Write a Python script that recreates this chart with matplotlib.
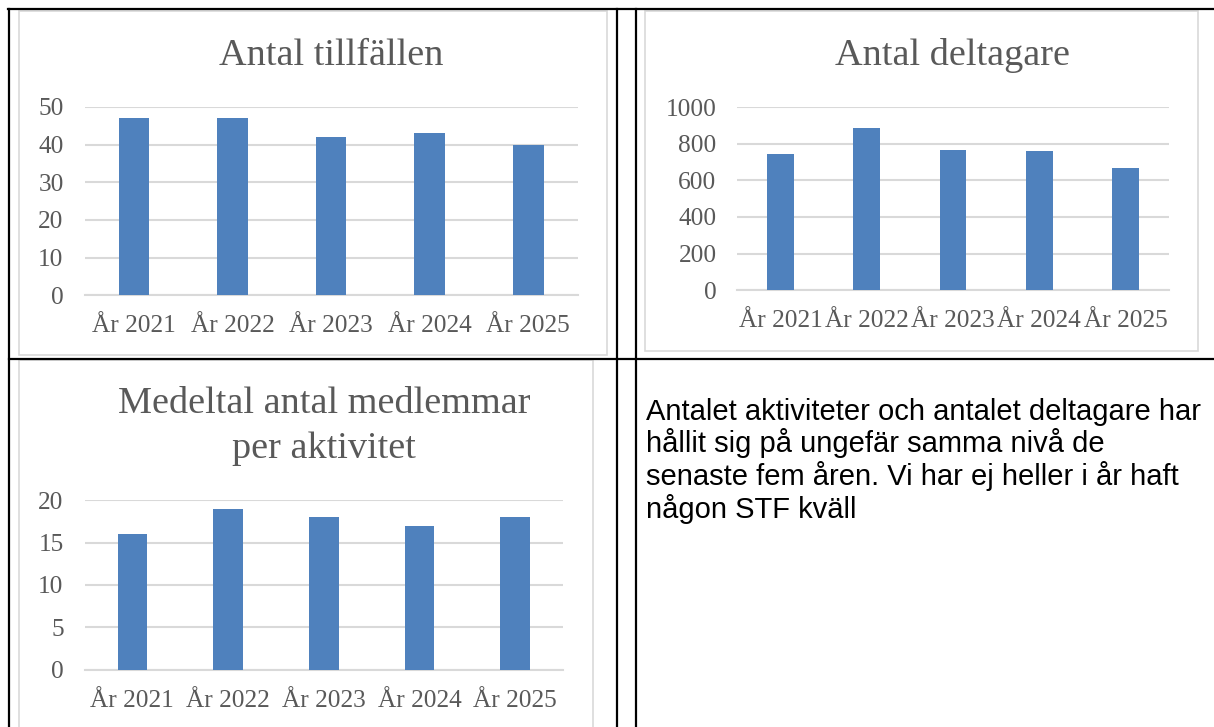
import matplotlib
matplotlib.use('Agg')
import matplotlib.pyplot as plt
from matplotlib.patches import Rectangle
from matplotlib.lines import Line2D
import numpy as np

W, H = 1214, 727

years = ['År 2021', 'År 2022', 'År 2023', 'År 2024', 'År 2025']
tillfallen = [47, 47, 42, 43, 40]
deltagare = [742, 885, 764, 760, 667]
medeltal = [16, 19, 18, 17, 18]

note_lines = [
    'Antalet aktiviteter och antalet deltagare har',
    'hållit sig på ungefär samma nivå de',
    'senaste fem åren. Vi har ej heller i år haft',
    'någon STF kväll',
]

BAR = '#4f81bd'
GRID = '#d9d9d9'
TXT = '#595959'
SERIF = ['Liberation Serif', 'DejaVu Serif']
SANS = ['Liberation Sans', 'DejaVu Sans']


def fx(px):
    return px / W


def fy(py):
    return 1 - py / H


def add_chart(fig, left, right, top, bottom, values, ymax, step, title, title_y):
    ax = fig.add_axes([fx(left), fy(bottom), fx(right - left), (bottom - top) / H])
    x = np.arange(len(values))
    ax.bar(x, values, width=0.31, color=BAR, zorder=3)
    ax.set_xlim(-0.5, len(values) - 0.5)
    ax.set_ylim(0, ymax)
    ax.set_yticks(np.arange(0, ymax + 1, step))
    ax.set_xticks(x)
    ax.set_xticklabels(years, family=SERIF, fontsize=18.3, color=TXT)
    for lab in ax.get_yticklabels():
        lab.set_family(SERIF)
        lab.set_fontsize(18.3)
        lab.set_color(TXT)
    ax.tick_params(axis='y', length=0, pad=15)
    ax.tick_params(axis='x', length=0, pad=14.5)
    ax.grid(axis='y', color=GRID, linewidth=1.5, zorder=0)
    for s in ['top', 'right', 'left']:
        ax.spines[s].set_visible(False)
    ax.spines['bottom'].set_color(GRID)
    ax.spines['bottom'].set_linewidth(1.5)
    ax.set_facecolor('none')
    cx = (left + right) / 2
    for i, t in enumerate(title):
        fig.text(fx(cx), fy(title_y + i * 45), t, ha='center', va='baseline',
                 family=SERIF, fontsize=27.5, color=TXT)
    return ax


fig = plt.figure(figsize=(W / 100, H / 100), dpi=100)

# chart frames
for l, t, r, b in [(19, 11, 607, 355), (645, 11, 1198, 351), (19, 360, 593, 740)]:
    fig.patches.append(Rectangle((fx(l), fy(b)), fx(r - l), (b - t) / H,
                                 transform=fig.transFigure, fill=False,
                                 edgecolor=GRID, linewidth=1.2))

add_chart(fig, 84.5, 577.6, 107, 295.3, tillfallen, 50, 10,
          ['Antal tillfällen'], 65)
add_chart(fig, 737.4, 1168.5, 107, 290.3, deltagare, 1000, 200,
          ['Antal deltagare'], 65)
add_chart(fig, 84.5, 563, 500.3, 669.5, medeltal, 20, 5,
          ['Medeltal antal medlemmar', 'per aktivitet'], 413)

# text cell
for i, line in enumerate(note_lines):
    fig.text(fx(646), fy(420 + i * 32.5), line, ha='left', va='baseline',
             family=SANS, fontsize=21, color='black')

# table lines
lw = 1.6
for x0, y0, x1, y1 in [(8, 8.5, W, 8.5), (9, 8.5, 9, H), (616.5, 8.5, 616.5, H),
                       (635.5, 8.5, 635.5, H), (9, 358.5, W, 358.5)]:
    fig.lines.append(Line2D([fx(x0), fx(x1)], [fy(y0), fy(y1)],
                            transform=fig.transFigure, color='black', linewidth=lw))

fig.savefig('out.png', dpi=100)
